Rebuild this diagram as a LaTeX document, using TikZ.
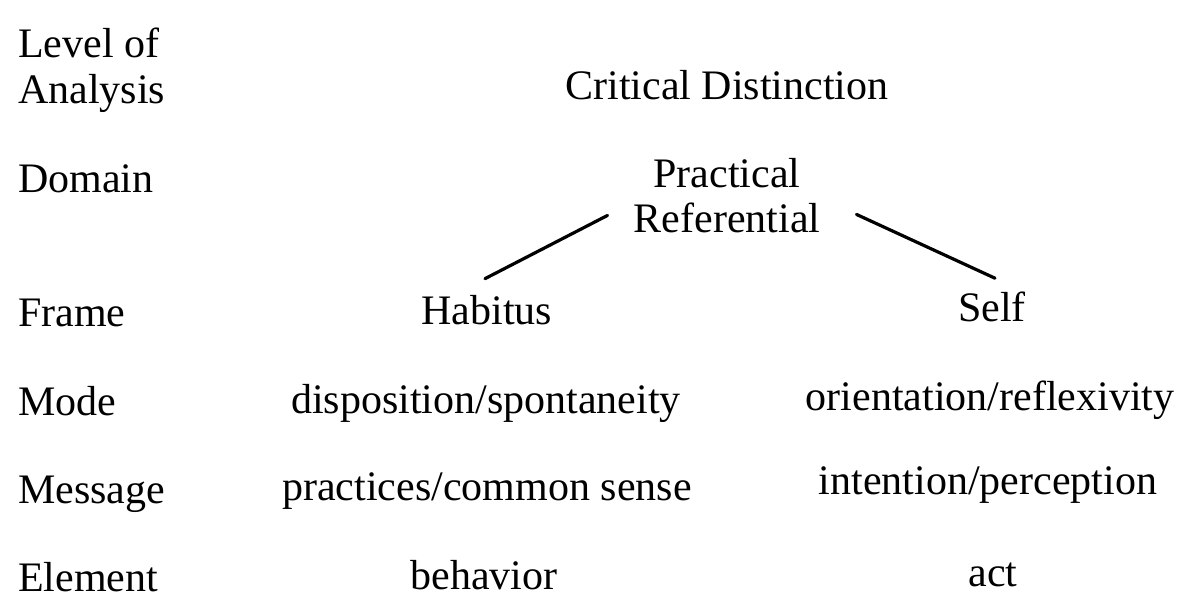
\documentclass[tikz,border=0pt]{standalone}
\usepackage{fontspec}
\setmainfont{Liberation Serif}
\usetikzlibrary{calc}
\begin{document}
\begin{tikzpicture}[x=1pt,y=-1pt,
  lbl/.style={anchor=base west, inner sep=0pt, font=\fontsize{42}{46}\selectfont},
  txt/.style={anchor=base, inner sep=0pt, font=\fontsize{42}{46}\selectfont},
  conn/.style={line width=3.2pt, line cap=round}]
\useasboundingbox (0,0) rectangle (1187,613);
% level labels
\node[lbl] (lev1) at (18,57) {Level of};
\node[lbl] (lev2) at (18,103) {Analysis};
\node[lbl] (dom) at (18,192) {Domain};
\node[lbl] (fra) at (18,326) {Frame};
\node[lbl] (mod) at (18,415) {Mode};
\node[lbl] (mes) at (18,503) {Message};
\node[lbl] (ele) at (18,591) {Element};
% content
\node[txt] (crit) at (727,99) {Critical Distinction};
\node[txt] (prac) at (727,187) {Practical};
\node[txt] (ref) at (727,232) {Referential};
\node[txt] (hab) at (487,324) {Habitus};
\node[txt] (self) at (992,321) {Self};
\node[txt] (disp) at (486,413) {disposition/spontaneity};
\node[txt] (orie) at (990,410) {orientation/reflexivity};
\node[txt] (prax) at (487,500) {practices/common sense};
\node[txt] (inte) at (988,494) {intention/perception};
\node[txt] (beh) at (484,589) {behavior};
\node[txt] (act) at (993,586) {act};
% connectors
\draw[conn] ($(ref.west)+(-26,-2)$) -- ($(hab.north)+(-2,-16)$);
\draw[conn] ($(ref.east)+(36,-3)$) -- ($(self.north)+(3,-13)$);
\end{tikzpicture}
\end{document}
